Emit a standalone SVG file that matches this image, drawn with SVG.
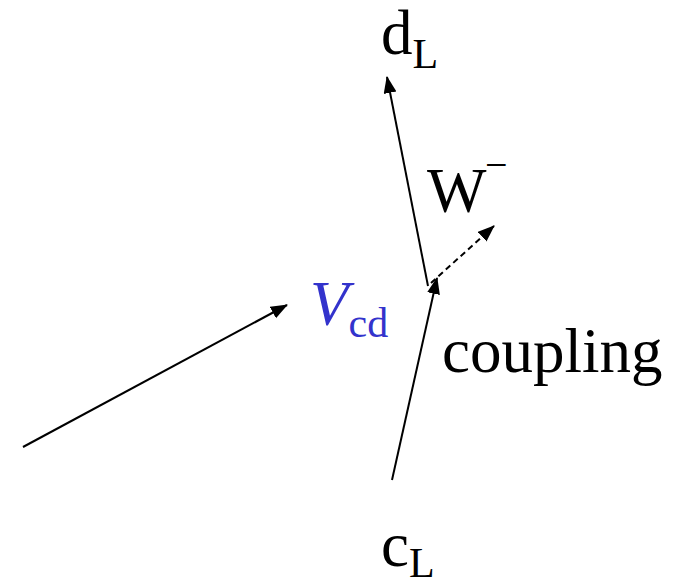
<svg xmlns="http://www.w3.org/2000/svg" width="681" height="582" viewBox="0 0 681 582">
<style>
.t{font-family:"Liberation Serif","Times New Roman",serif;fill:#000}
.ln{stroke:#000;stroke-width:2;fill:none}
.dash{stroke-dasharray:6 4}
</style>
<defs>
<marker id="ah" markerUnits="userSpaceOnUse" markerWidth="20" markerHeight="14" refX="16" refY="6.5" orient="auto">
<path d="M0,0 L17,6.5 L0,13 z" fill="#000"/>
</marker>
</defs>
<rect width="681" height="582" fill="#fff"/>
<g id="connectors">
<line class="ln" x1="23" y1="447" x2="287" y2="305" marker-end="url(#ah)"/>
<line class="ln" x1="428" y1="286" x2="387" y2="77" marker-end="url(#ah)"/>
<line class="ln" x1="392" y1="480" x2="437" y2="278" marker-end="url(#ah)"/>
<line class="ln dash" x1="431" y1="283" x2="494" y2="226" marker-end="url(#ah)"/>
</g>
<g id="dL"><text class="t" x="381" y="54" font-size="63">d<tspan font-size="42" dy="14">L</tspan></text></g>
<g id="W"><text class="t" x="427" y="212" font-size="63">W</text><text class="t" x="485" y="178" font-size="40">−</text></g>
<g id="Vcd"><text class="t" x="310" y="325" font-size="63" fill="#3333CC" style="fill:#3333CC"><tspan font-style="italic">V</tspan><tspan font-size="42" dy="12">cd</tspan></text></g>
<g id="coupling"><text class="t" x="442" y="372" font-size="63">coupling</text></g>
<g id="cL"><text class="t" x="381" y="566" font-size="63">c<tspan font-size="42" dy="11">L</tspan></text></g>
</svg>
